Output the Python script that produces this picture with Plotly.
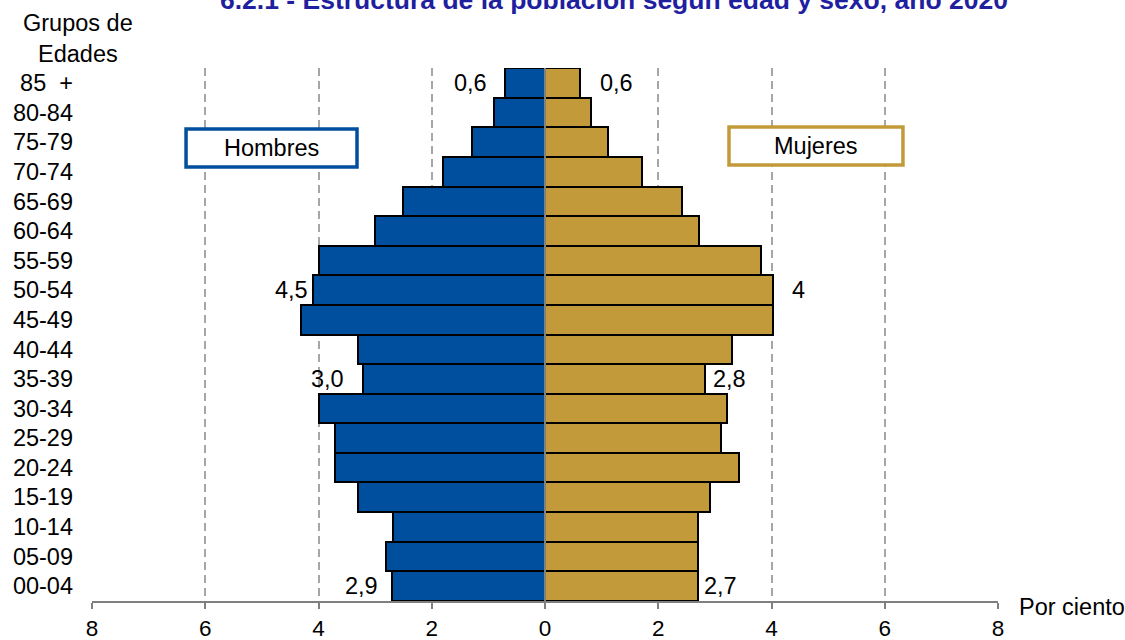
import plotly.graph_objects as go

# ---- data ----
age_groups = ["00-04", "05-09", "10-14", "15-19", "20-24", "25-29", "30-34", "35-39",
              "40-44", "45-49", "50-54", "55-59", "60-64", "65-69", "70-74", "75-79",
              "80-84", "85\u00a0\u00a0+"]
men = [2.71, 2.80, 2.69, 3.31, 3.70, 3.70, 4.00, 3.21, 3.30, 4.31, 4.10, 4.00,
       3.00, 2.51, 1.80, 1.29, 0.90, 0.71]
women = [2.71, 2.71, 2.71, 2.92, 3.43, 3.11, 3.22, 2.82, 3.31, 4.02, 4.02, 3.82,
         2.72, 2.42, 1.72, 1.11, 0.81, 0.62]

label_groups = ["85\u00a0\u00a0+", "50-54", "35-39", "00-04"]
men_labels = ["0,6", "4,5", "3,0", "2,9"]
women_labels = ["0,6", "4", "2,8", "2,7"]

tick_vals = [-8, -6, -4, -2, 0, 2, 4, 6, 8]
tick_text = ["8", "6", "4", "2", "0", "2", "4", "6", "8"]

title_text = "6.2.1 - Estructura de la población según edad y sexo, año 2020"

# ---- style ----
FONT = "Liberation Sans, Arial, sans-serif"
FS = 23.5
MEN_COLOR = "#004F9E"
WOMEN_COLOR = "#C39A3A"
GRID = "#A6A6A6"
AXIS = "#808080"
men_gap = [16, 3, 17, 12]
women_gap = [18, 17, 6, 4]

fig = go.Figure()
fig.add_trace(go.Bar(y=age_groups, x=[-v for v in men], orientation="h",
                     marker=dict(color=MEN_COLOR, line=dict(color="black", width=2)),
                     name="Hombres", customdata=men,
                     hovertemplate="%{y}: %{customdata}<extra>Hombres</extra>"))
fig.add_trace(go.Bar(y=age_groups, x=women, orientation="h",
                     marker=dict(color=WOMEN_COLOR, line=dict(color="black", width=2)),
                     name="Mujeres",
                     hovertemplate="%{y}: %{x}<extra>Mujeres</extra>"))

annotations = []
for g, t, gap in zip(label_groups, men_labels, men_gap):
    v = men[age_groups.index(g)]
    annotations.append(dict(x=-v, y=g, xref="x", yref="y", text=t, showarrow=False,
                            xanchor="right", xshift=-gap, font=dict(size=FS, color="black")))
for g, t, gap in zip(label_groups, women_labels, women_gap):
    v = women[age_groups.index(g)]
    annotations.append(dict(x=v, y=g, xref="x", yref="y", text=t, showarrow=False,
                            xanchor="left", xshift=gap, font=dict(size=FS, color="black")))

# title (partly cut off at top as in reference)
annotations.append(dict(x=0.576, y=1.127, xref="paper", yref="paper",
                        text="<b>" + title_text + "</b>", showarrow=False,
                        xanchor="center", yanchor="middle",
                        font=dict(size=26.5, color="#1F1F9F")))
annotations.append(dict(x=-0.0155, y=1.056, xref="paper", yref="paper",
                        text="Grupos de<br>Edades", showarrow=False,
                        xanchor="center", yanchor="middle",
                        font=dict(size=FS, color="black")))
annotations.append(dict(x=1.021, y=-0.011, xref="paper", yref="paper",
                        text="Por ciento", showarrow=False,
                        xanchor="left", yanchor="middle",
                        font=dict(size=FS, color="black")))

# legend boxes
boxes = [("Hombres", MEN_COLOR, 0.1038, 0.2925, 0.8143, 0.8856),
         ("Mujeres", WOMEN_COLOR, 0.7031, 0.8951, 0.8180, 0.8893)]
shapes = []
for name, col, x0, x1, y0, y1 in boxes:
    shapes.append(dict(type="rect", xref="paper", yref="paper", x0=x0, x1=x1, y0=y0, y1=y1,
                       line=dict(color=col, width=3.5), fillcolor="white", layer="above"))
    annotations.append(dict(x=(x0 + x1) / 2, y=(y0 + y1) / 2, xref="paper", yref="paper",
                            text=name, showarrow=False, xanchor="center", yanchor="middle",
                            font=dict(size=FS, color="black")))

# center line drawn over bars
shapes.append(dict(type="line", xref="x", yref="paper", x0=0, x1=0, y0=0, y1=1,
                   line=dict(color=AXIS, width=2), layer="above"))

fig.update_layout(
    width=1125, height=640,
    margin=dict(l=92, r=127, t=68, b=39),
    paper_bgcolor="white", plot_bgcolor="white",
    barmode="overlay", bargap=0,
    showlegend=False,
    font=dict(family=FONT, size=FS, color="black"),
    annotations=annotations, shapes=shapes,
    xaxis=dict(range=[-8, 8], tickvals=tick_vals, ticktext=tick_text,
               showgrid=True, gridcolor=GRID, gridwidth=2, griddash="8px,5px",
               zeroline=False, showline=True, linecolor=AXIS, linewidth=2,
               ticks="outside", ticklen=6, tickwidth=2, tickcolor=AXIS,
               ticklabelstandoff=0, automargin=False,
               tickfont=dict(size=22.5, color="black")),
    yaxis=dict(type="category", categoryorder="array", categoryarray=age_groups,
               showgrid=False, zeroline=False, showline=False,
               ticks="", ticklabelstandoff=18, automargin=False,
               tickfont=dict(size=FS, color="black")),
)

fig.write_html("out.html", config={"displayModeBar": False},
               post_script="document.body.style.margin='0';document.body.style.padding='0';")
